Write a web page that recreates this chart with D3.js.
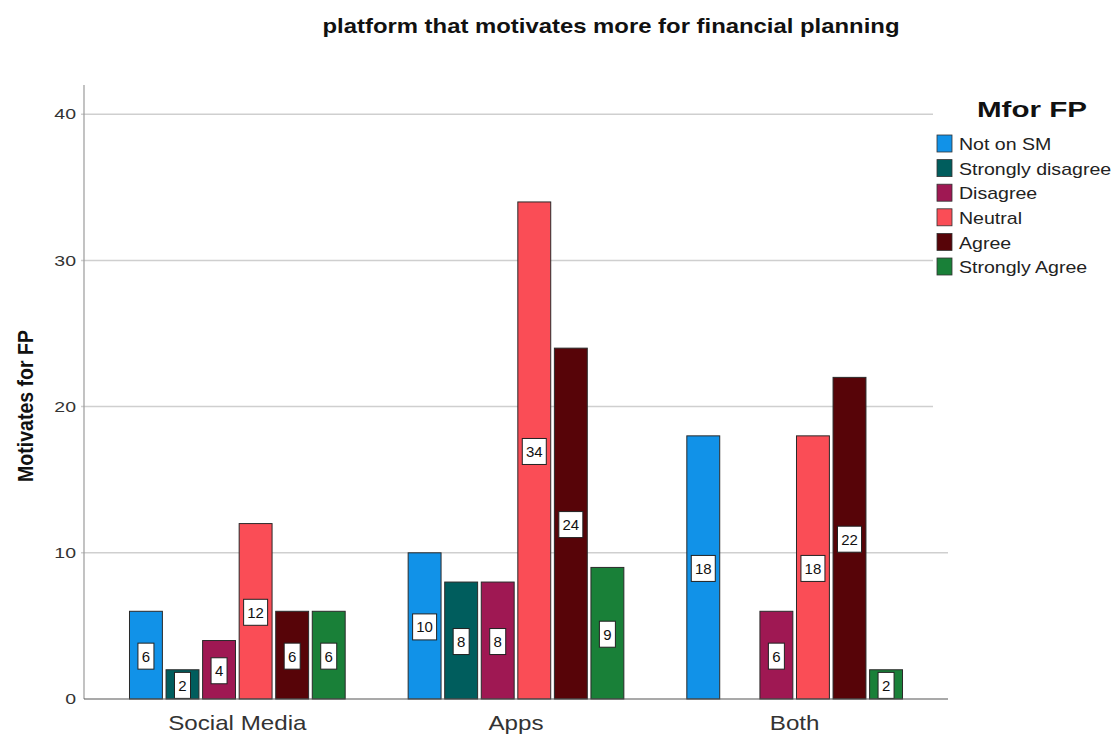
<!DOCTYPE html>
<html>
<head>
<meta charset="utf-8">
<script src="https://cdn.jsdelivr.net/npm/d3@7"></script>
<style>
  body { margin: 0; background: #fff; }
  svg { font-family: "Liberation Sans", Arial, sans-serif; }
</style>
</head>
<body>
<div id="chart"></div>
<script>
const categories = ["Social Media", "Apps", "Both"];
const seriesNames = ["Not on SM", "Strongly disagree", "Disagree", "Neutral", "Agree", "Strongly Agree"];
const seriesColors = ["#1192e8", "#005d5d", "#9f1853", "#fa4d56", "#570408", "#198038"];
// values per category, in series order
const socialMedia = [6, 2, 4, 12, 6, 6];
const apps = [10, 8, 8, 34, 24, 9];
const both = [18, 0, 6, 18, 22, 2];
const yTicks = [0, 10, 20, 30, 40];

const values = [socialMedia, apps, both];

const width = 1118, height = 736;
const svg = d3.select("#chart").append("svg")
    .attr("width", width)
    .attr("height", height);

// the reference text is a bit wider than Liberation Sans at the same height
function stretch(sel, k) {
    sel.each(function() {
        const w = this.getComputedTextLength();
        d3.select(this).attr("textLength", w * k).attr("lengthAdjust", "spacingAndGlyphs");
    });
}

const plotLeft = 84, plotRight = 948, plotTop = 85, plotBottom = 699;

const y = d3.scaleLinear().domain([0, 42]).range([plotBottom, plotTop]);
const x = d3.scaleBand().domain(categories).range([98, 934])
    .paddingInner(0.226).paddingOuter(0.113);
const xs = d3.scaleBand().domain(seriesNames).range([0, x.bandwidth()])
    .paddingInner(0.1).paddingOuter(0);

// gridlines
svg.append("g")
    .selectAll("line")
    .data(yTicks.filter(d => d > 0))
    .enter().append("line")
    .attr("x1", plotLeft - 3)
    .attr("x2", plotRight)
    .attr("y1", d => y(d))
    .attr("y2", d => y(d))
    .attr("stroke", "#cfcfcf")
    .attr("stroke-width", 1.5);

// y axis line
svg.append("line")
    .attr("x1", plotLeft).attr("x2", plotLeft)
    .attr("y1", plotTop).attr("y2", plotBottom)
    .attr("stroke", "#9a9a9a").attr("stroke-width", 1.2);

// tick labels
svg.append("g")
    .attr("text-anchor", "end")
    .selectAll("text")
    .data(yTicks)
    .enter().append("text")
    .attr("x", plotLeft - 8)
    .attr("y", d => y(d))
    .attr("dy", "0.35em")
    .attr("font-size", 15)
    .attr("fill", "#333")
    .text(d => d)
    .call(stretch, 1.3);

// bars
const group = svg.append("g")
    .selectAll("g")
    .data(categories)
    .enter().append("g")
    .attr("transform", d => `translate(${x(d)},0)`);

const cells = group.selectAll("g")
    .data((c, i) => seriesNames.map((s, j) => ({ s, j, v: values[i][j] })).filter(d => d.v > 0))
    .enter().append("g");

cells.append("rect")
    .attr("x", d => xs(d.s))
    .attr("y", d => y(d.v))
    .attr("width", xs.bandwidth())
    .attr("height", d => y(0) - y(d.v))
    .attr("fill", d => seriesColors[d.j])
    .attr("stroke", "#2a2a2a")
    .attr("stroke-width", 1);

// value labels
cells.each(function(d) {
    const g = d3.select(this);
    const cx = xs(d.s) + xs.bandwidth() / 2;
    const cy = (y(d.v) + y(0)) / 2 + 1;
    const txt = String(d.v);
    const w = txt.length > 1 ? 24 : 16;
    const h = 26;
    g.append("rect")
        .attr("x", cx - w / 2)
        .attr("y", cy - h / 2)
        .attr("width", w)
        .attr("height", h)
        .attr("fill", "#fff")
        .attr("stroke", "#222")
        .attr("stroke-width", 1);
    g.append("text")
        .attr("x", cx)
        .attr("y", cy)
        .attr("dy", "0.36em")
        .attr("text-anchor", "middle")
        .attr("font-size", 15)
        .attr("fill", "#111")
        .text(txt);
});

// baseline
svg.append("line")
    .attr("x1", plotLeft).attr("x2", plotRight)
    .attr("y1", plotBottom).attr("y2", plotBottom)
    .attr("stroke", "#555").attr("stroke-width", 1.2);

// x labels
svg.append("g")
    .attr("text-anchor", "middle")
    .selectAll("text")
    .data(categories)
    .enter().append("text")
    .attr("x", d => x(d) + x.bandwidth() / 2)
    .attr("y", 730)
    .attr("font-size", 21)
    .attr("fill", "#333")
    .text(d => d)
    .call(stretch, 1.15);

// titles
svg.append("text")
    .attr("x", 611)
    .attr("y", 33)
    .attr("text-anchor", "middle")
    .attr("font-size", 21)
    .attr("font-weight", "bold")
    .attr("fill", "#111")
    .attr("textLength", 577)
    .attr("lengthAdjust", "spacingAndGlyphs")
    .text("platform that motivates more for financial planning");

svg.append("text")
    .attr("transform", `translate(33,406)rotate(-90)`)
    .attr("text-anchor", "middle")
    .attr("font-size", 22)
    .attr("font-weight", "bold")
    .attr("fill", "#111")
    .attr("textLength", 152)
    .attr("lengthAdjust", "spacingAndGlyphs")
    .text("Motivates for FP");

// legend
const legend = svg.append("g");
legend.append("rect")
    .attr("x", 933).attr("y", 86)
    .attr("width", 185).attr("height", 330)
    .attr("fill", "#fff");

legend.append("text")
    .attr("x", 1032)
    .attr("y", 117)
    .attr("text-anchor", "middle")
    .attr("font-size", 22)
    .attr("font-weight", "bold")
    .attr("fill", "#111")
    .attr("textLength", 110)
    .attr("lengthAdjust", "spacingAndGlyphs")
    .text("Mfor FP");

const item = legend.selectAll("g")
    .data(seriesNames)
    .enter().append("g")
    .attr("transform", (d, i) => `translate(937,${135 + i * 24.6})`);

item.append("rect")
    .attr("width", 15)
    .attr("height", 17)
    .attr("fill", (d, i) => seriesColors[i])
    .attr("stroke", "#333")
    .attr("stroke-width", 0.8);

item.append("text")
    .attr("x", 22)
    .attr("y", 9)
    .attr("dy", "0.36em")
    .attr("font-size", 17)
    .attr("fill", "#222")
    .text(d => d)
    .call(stretch, 1.15);
</script>
</body>
</html>
